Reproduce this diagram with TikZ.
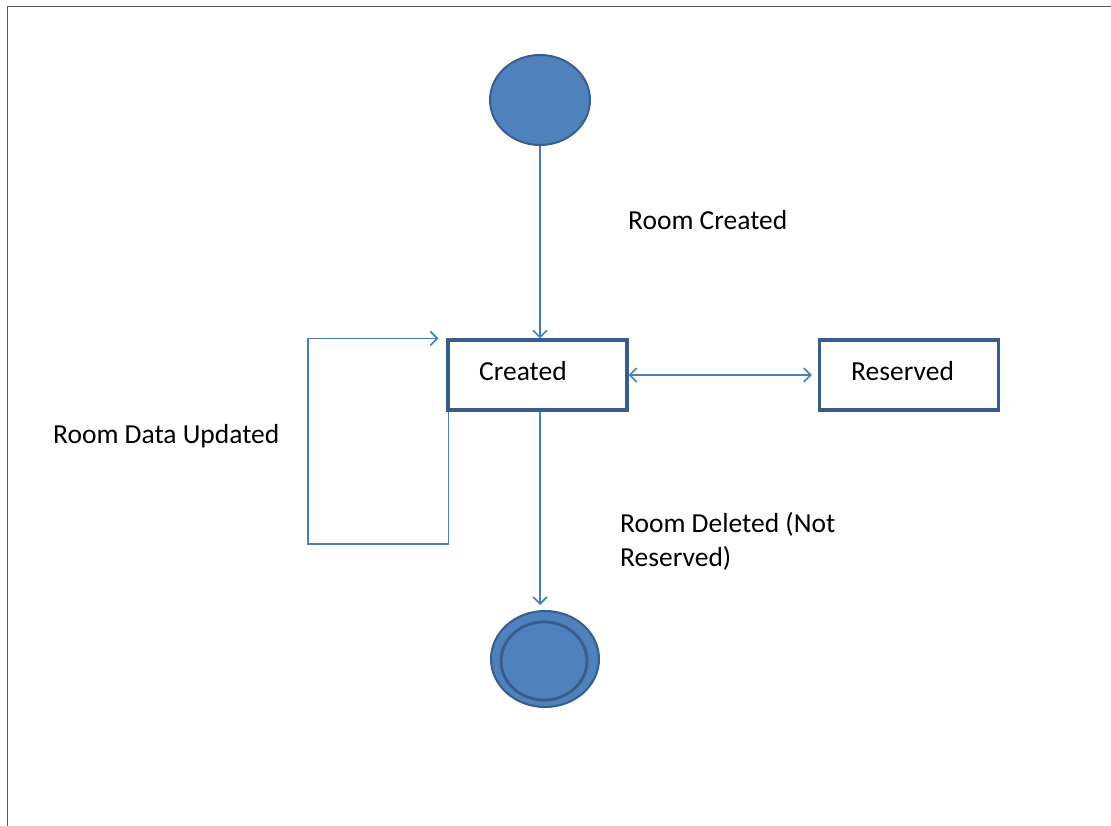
\documentclass[tikz,border=0pt]{standalone}
\usepackage{fontspec}
\setmainfont{Carlito}
\usetikzlibrary{shapes.geometric,arrows.meta}
\definecolor{fillblue}{HTML}{4F81BD}
\definecolor{darkblue}{HTML}{385D8A}
\definecolor{connblue}{HTML}{4A7EBB}
\definecolor{framegray}{HTML}{555555}
\tikzset{
  statebox/.style={draw=darkblue, line width=3.2pt, fill=white, rectangle, minimum width=179pt, minimum height=70pt, inner sep=0pt},
  startdot/.style={draw=darkblue, line width=2pt, fill=fillblue, ellipse, minimum width=100pt, minimum height=90pt, inner sep=0pt},
  enddot/.style={draw=darkblue, line width=2pt, fill=fillblue, ellipse, minimum width=108pt, minimum height=96pt, inner sep=0pt},
  endinner/.style={draw=darkblue, line width=2.8pt, fill=fillblue, ellipse, minimum width=86pt, minimum height=78pt, inner sep=0pt},
  conn/.style={draw=connblue, line width=1.6pt},
  barb/.tip={Straight Barb[length=7pt,width=14pt,line width=1.6pt]},
  tip/.style={-barb},
  lbl/.style={font=\fontsize{27.5}{34}\selectfont, text=black, inner sep=0pt, anchor=base west, align=left},
}
\begin{document}
\begin{tikzpicture}[x=1pt,y=-1pt]
\useasboundingbox (0,0) rectangle (1111,826);
\fill[white] (0,0) rectangle (1111,826);
% frame
\coordinate (ftl) at (7.5,6.5);
\coordinate (ftr) at (1111,6.5);
\coordinate (fbl) at (7.5,826);
\draw[framegray, line width=1.8pt] (fbl) -- (ftl) -- (ftr);

% states
\node[startdot] (start) at (540,100) {};
\node[statebox] (created) at (537.5,375) {};
\node[statebox] (reserved) at (909,375) {};
\node[enddot] (end) at (545,659) {};
\node[endinner] (endin) at (544,661) {};

% state texts
\node[lbl] (createdtxt) at (479,380) {Created};
\node[lbl] (reservedtxt) at (851,380) {Reserved};

% connectors
\draw[conn,tip] (start.south) -- (start |- created.north);
\draw[conn,barb-barb, shorten >=6pt] (created.east) -- (reserved.west);
\coordinate (loopbl) at (308,544);
\draw[conn,tip] ([xshift=2pt]created.south west) |- (loopbl) |- ([xshift=-8pt]created.north west);
\draw[conn,tip] (start |- created.south) -- ([yshift=5pt]start |- end.north);

% labels
\node[lbl] (lcreated) at (628,230) {Room Created};
\node[lbl] (lupdated) at (53,443) {Room Data Updated};
\node[lbl] (ldeleted) at (620,566) {Room Deleted (Not\\Reserved)};
\end{tikzpicture}
\end{document}
